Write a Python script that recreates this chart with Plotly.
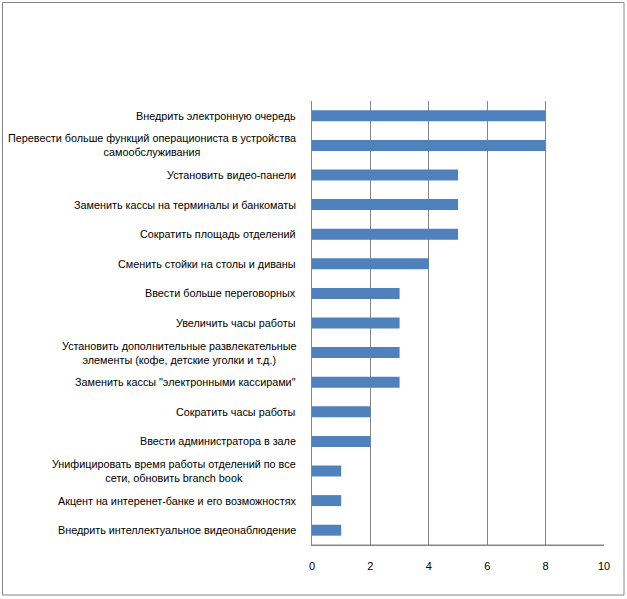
import plotly.graph_objects as go

categories = [
    "Внедрить электронную очередь",
    "Перевести больше функций операциониста в устройства<br>самообслуживания",
    "Установить видео-панели",
    "Заменить кассы на терминалы и банкоматы",
    "Сократить площадь отделений",
    "Сменить стойки на столы и диваны",
    "Ввести больше переговорных",
    "Увеличить часы работы",
    "Установить дополнительные развлекательные<br>элементы (кофе, детские уголки и т.д.)",
    "Заменить кассы \"электронными кассирами\"",
    "Сократить часы работы",
    "Ввести администратора в зале",
    "Унифицировать время работы отделений по все<br>сети, обновить branch book",
    "Акцент на интеренет-банке и его возможностях",
    "Внедрить интеллектуальное видеонаблюдение",
]
values = [8, 8, 5, 5, 5, 4, 3, 3, 3, 3, 2, 2, 1, 1, 1]
x_ticks = [0, 2, 4, 6, 8, 10]

W, H = 627, 599
L, R, T, B = 312, 23, 101, 54

font = "Liberation Sans"

fig = go.Figure()
fig.add_trace(go.Bar(
    y=list(range(len(categories))), x=values, orientation="h",
    marker=dict(color="#4F81BD", line=dict(width=0)),
    width=0.37,
))

for i, c in enumerate(categories):
    fig.add_annotation(
        x=0, xref="paper", y=i, yref="y", text=c, showarrow=False,
        xanchor="right", xshift=-14, align="center",
        font=dict(family=font, size=10.8, color="#000000"),
    )

pw = W - L - R
ph = H - T - B
fig.add_shape(type="rect", xref="paper", yref="paper",
              x0=(2.5 - L) / pw, x1=(624 - L) / pw,
              y0=-(595 - T - ph) / ph, y1=1 + (T - 2.5) / ph,
              line=dict(color="#868686", width=1), layer="below")

fig.update_layout(
    width=W, height=H,
    margin=dict(l=L, r=R, t=T, b=B, autoexpand=False),
    paper_bgcolor="white", plot_bgcolor="white",
    showlegend=False,
    bargap=0.63,
    xaxis=dict(range=[0, 10], tickvals=x_ticks, ticktext=[str(v) for v in x_ticks],
               showgrid=True, gridcolor="#868686", gridwidth=1,
               zeroline=False, showline=True, linecolor="#868686", linewidth=1,
               mirror=False, ticks="", ticklen=0, ticklabelstandoff=11,
               tickfont=dict(family=font, size=11, color="#000000")),
    yaxis=dict(range=[len(categories) - 0.5, -0.5], showticklabels=False,
               showgrid=False, zeroline=False, showline=True, linecolor="#868686",
               linewidth=1, ticks=""),
)
fig.add_shape(type="line", xref="paper", yref="paper", x0=0, x1=1, y0=0, y1=0,
              line=dict(color="#868686", width=1))

fig.write_html("out.html")
